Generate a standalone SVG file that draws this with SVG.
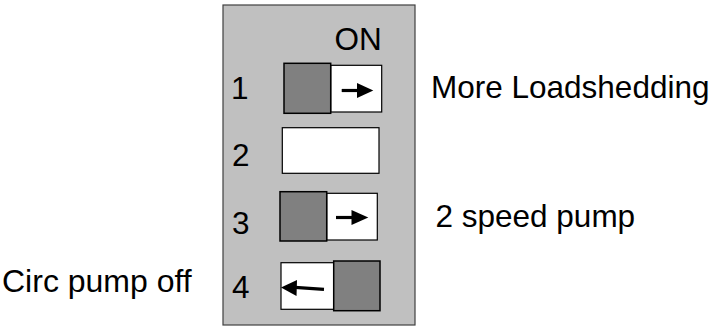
<svg xmlns="http://www.w3.org/2000/svg" width="715" height="327" viewBox="0 0 715 327">
<style>
text{font-family:"Liberation Sans",Arial,sans-serif;font-size:31.5px;fill:#000}
.panel{fill:#c0c0c0;stroke:#404040;stroke-width:1.2}
.knob{fill:#808080;stroke:#000;stroke-width:1.5}
.slot{fill:#fff;stroke:#000;stroke-width:1.2}
.shaft{stroke:#000;stroke-width:3.2;fill:none}
.head{fill:#000}
</style>
<rect width="715" height="327" fill="#fff"/>
<g id="panel">
<rect class="panel" x="223" y="5" width="192" height="320"/>
<text x="334.5" y="50">ON</text>
</g>
<g id="switch1">
<text x="231" y="99">1</text>
<rect class="slot" x="330.7" y="65.3" width="51" height="46.7"/>
<rect class="knob" x="284" y="63.3" width="46.7" height="50"/>
<line class="shaft" x1="341.7" y1="90.5" x2="359" y2="90.5"/>
<polygon class="head" points="357,83 373.3,90.5 357,98"/>
</g>
<g id="switch2">
<text x="232" y="166">2</text>
<rect class="slot" x="282.3" y="127.7" width="96.7" height="45.6"/>
</g>
<g id="switch3">
<text x="232" y="234">3</text>
<rect class="slot" x="326.7" y="193.3" width="50.6" height="46.7"/>
<rect class="knob" x="280" y="191.7" width="46.7" height="49.3"/>
<line class="shaft" x1="336" y1="217.5" x2="353" y2="217.5"/>
<polygon class="head" points="351.5,210 368.3,217.5 351.5,225"/>
</g>
<g id="switch4">
<text x="232" y="298">4</text>
<rect class="slot" x="281" y="262.7" width="52.7" height="46.6"/>
<rect class="knob" x="333.7" y="261" width="46.3" height="49.7"/>
<line class="shaft" x1="295" y1="287.3" x2="324" y2="289.3"/>
<polygon class="head" points="281,287.5 297,280 296.5,296"/>
</g>
<g id="labels">
<text x="431" y="98">More Loadshedding</text>
<text x="435.5" y="227">2 speed pump</text>
<text x="2" y="292" style="font-size:32px">Circ pump off</text>
</g>
</svg>
